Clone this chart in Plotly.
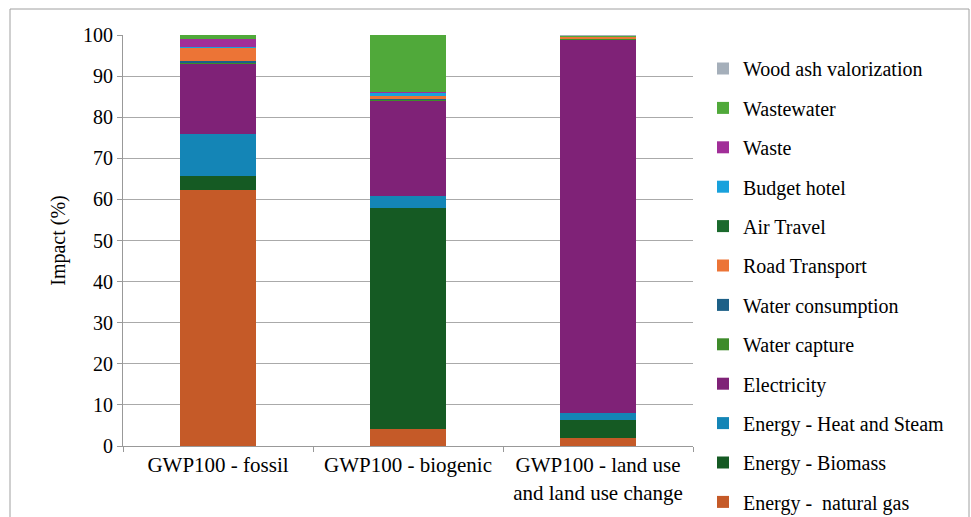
import plotly.graph_objects as go

categories = ["GWP100 - fossil", "GWP100 - biogenic", "GWP100 - land use<br>and land use change"]

series_names = [
    "Energy -  natural gas",
    "Energy - Biomass",
    "Energy - Heat and Steam",
    "Electricity",
    "Water capture",
    "Water consumption",
    "Road Transport",
    "Air Travel",
    "Budget hotel",
    "Waste",
    "Wastewater",
    "Wood ash valorization",
]

natural_gas = [62.3, 4.1, 2.0]
biomass = [3.5, 53.8, 4.4]
heat_steam = [10.2, 2.9, 1.7]
electricity = [17.0, 23.2, 90.7]
water_capture = [0.3, 0.3, 0.25]
water_consumption = [0.3, 0.1, 0.05]
road_transport = [3.4, 0.8, 0.5]
air_travel = [0.05, 0.05, 0.05]
budget_hotel = [0.1, 0.7, 0.05]
waste = [1.9, 0.1, 0.05]
wastewater = [1.0, 14.0, 0.1]
wood_ash = [0.0, 0.0, 0.25]

values = [natural_gas, biomass, heat_steam, electricity, water_capture, water_consumption,
          road_transport, air_travel, budget_hotel, waste, wastewater, wood_ash]

colors = ["#C55A28", "#155A23", "#1485B6", "#7F2277", "#3E8B2A", "#1D6087",
          "#EC7436", "#1B6A2D", "#18A1DC", "#A12E98", "#50A93A", "#A5AFBA"]

fig = go.Figure()
for i, (name, vals, col) in enumerate(zip(series_names, values, colors)):
    fig.add_trace(go.Bar(x=categories, y=vals, name=name, marker_color=col,
                         marker_line_width=0, legendgroup=name, legendrank=1000 - i))

L, R, T, B = 123, 278, 35, 71
pw, ph = 971 - L - R, 517 - T - B
FONT = "Liberation Serif, Times New Roman, serif"

fig.update_layout(
    width=971, height=517,
    margin=dict(l=L, r=R, t=T, b=B, autoexpand=False),
    barmode="stack", bargap=0.6,
    plot_bgcolor="white", paper_bgcolor="white",
    font=dict(family=FONT, size=20, color="black"),
    legend=dict(traceorder="grouped", tracegroupgap=10.4,
                x=(703 - L) / pw, xanchor="left", y=(446 - 49) / ph, yanchor="top",
                font=dict(size=20), itemwidth=30, bgcolor="rgba(0,0,0,0)",
                maxheight=1000),
    showlegend=True,
    xaxis=dict(showline=True, linecolor="#999999", linewidth=1, ticks="outside",
               tickcolor="#999999", ticklen=5, tickson="boundaries",
               tickfont=dict(size=21)),
    yaxis=dict(range=[0, 100], dtick=10, showgrid=True, gridcolor="#AAAAAA", gridwidth=1,
               showline=True, linecolor="#999999", ticks="outside", tickcolor="#999999",
               ticklen=5, title=dict(text="Impact (%)", font=dict(size=20), standoff=12),
               tickfont=dict(size=20), zeroline=False),
    shapes=[dict(type="rect", xref="paper", yref="paper",
                 x0=(10 - L) / pw, x1=(969 - L) / pw,
                 y0=(446 - 530) / ph, y1=(446 - 9) / ph,
                 line=dict(color="#A0A0A0", width=1), fillcolor="rgba(0,0,0,0)", layer="below")],
)

fig.write_html("out.html", config={"displayModeBar": False},
               post_script="document.body.style.margin='0';")
